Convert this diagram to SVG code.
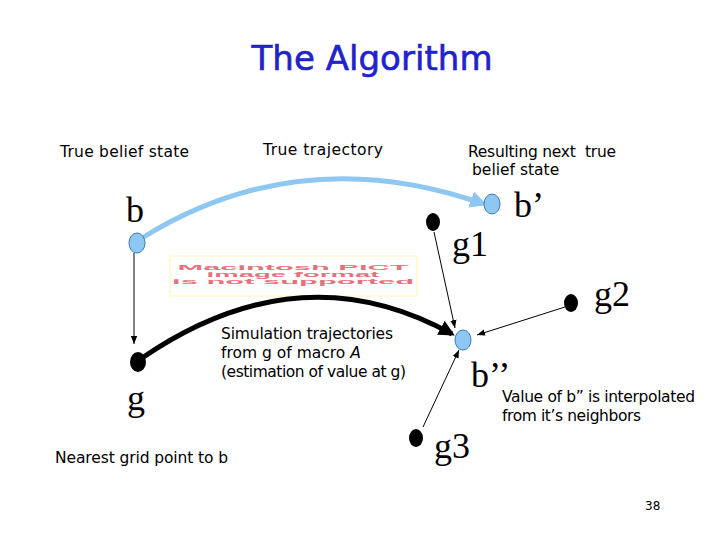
<svg xmlns="http://www.w3.org/2000/svg" width="720" height="540" viewBox="0 0 720 540">
<defs>
<style>
.lbl{font-family:"Comic Sans MS","DejaVu Sans",sans-serif;font-size:15.5px;fill:#000}
.ser{font-family:"Liberation Serif","Times New Roman",serif;font-size:36px;fill:#000}
.thin{stroke:#000;stroke-width:1;fill:none}
.bel{fill:#8ec8f2;stroke:#3a7ab8;stroke-width:1}
.grid{fill:#000}
.pict{font-family:"Liberation Sans",Arial,sans-serif;font-weight:bold;font-size:10px;fill:#e8707c}
</style>
<marker id="ah" viewBox="0 0 10 10" refX="10" refY="5" markerWidth="8" markerHeight="8" markerUnits="userSpaceOnUse" orient="auto"><path d="M0,1 L10,5 L0,9 Z" fill="#000"/></marker>
<marker id="ahb" viewBox="0 0 10 10" refX="8" refY="5" markerWidth="3.2" markerHeight="3.2" orient="auto"><path d="M0,0 L10,5 L0,10 Z" fill="#000"/></marker>
<marker id="ahl" viewBox="0 0 10 10" refX="8" refY="5" markerWidth="3.4" markerHeight="3.4" orient="auto"><path d="M0,0 L10,5 L0,10 Z" fill="#8ec8f2"/></marker>
</defs>
<rect width="720" height="540" fill="#fff"/>
<text x="372" y="70" text-anchor="middle" style="font-family:'Comic Sans MS','DejaVu Sans',sans-serif;font-size:34px;fill:#2222cc;stroke:#2222cc;stroke-width:0.6" textLength="241">The Algorithm</text>
<text class="lbl" x="60" y="157" textLength="129">True belief state</text>
<text class="lbl" x="263" y="155" textLength="120">True trajectory</text>
<text class="lbl" x="468" y="157" textLength="148" xml:space="preserve">Resulting next  true</text>
<text class="lbl" x="472" y="175">belief state</text>
<g id="pict">
<rect x="170" y="256" width="247" height="40" fill="#fff" stroke="#fff4b0" stroke-width="1"/>
<g transform="translate(293,0) scale(1,0.65)">
<text class="pict" x="0" y="415" text-anchor="middle" textLength="231" lengthAdjust="spacingAndGlyphs">Macintosh PICT</text>
<text class="pict" x="0" y="426" text-anchor="middle" textLength="173" lengthAdjust="spacingAndGlyphs">image format</text>
<text class="pict" x="0" y="437" text-anchor="middle" textLength="242" lengthAdjust="spacingAndGlyphs">is not supported</text>
</g>
</g>
<g id="connectors">
<path d="M142,238 Q300,140 484,204" fill="none" stroke="#8ec8f2" stroke-width="5" marker-end="url(#ahl)"/>
<path d="M142,358 Q300,250 452,334" fill="none" stroke="#000" stroke-width="5" marker-end="url(#ahb)"/>
<line class="thin" x1="134" y1="253" x2="134" y2="344" marker-end="url(#ah)"/>
<line class="thin" x1="434" y1="232" x2="455" y2="328" marker-end="url(#ah)"/>
<line class="thin" x1="565" y1="307" x2="477" y2="335" marker-end="url(#ah)"/>
<line class="thin" x1="423" y1="427" x2="459" y2="350" marker-end="url(#ah)"/>
</g>
<g id="b"><ellipse class="bel" cx="137" cy="243" rx="8" ry="10"/><text class="ser" x="126" y="222">b</text></g>
<g id="b1"><ellipse class="bel" cx="492" cy="204" rx="8" ry="10"/><text class="ser" x="514" y="217">b’</text></g>
<g id="g1"><ellipse class="grid" cx="433" cy="222" rx="7" ry="9"/><text class="ser" x="452" y="256">g1</text></g>
<g id="g2"><ellipse class="grid" cx="571" cy="303" rx="7" ry="9"/><text class="ser" x="594" y="306">g2</text></g>
<g id="b2"><ellipse class="bel" cx="463" cy="340" rx="8" ry="10"/><text class="ser" x="471" y="387">b’’</text></g>
<g id="g3"><ellipse class="grid" cx="416" cy="438" rx="7" ry="9"/><text class="ser" x="434" y="458">g3</text></g>
<g id="g"><ellipse class="grid" cx="138" cy="362" rx="8" ry="10"/><text class="ser" x="127" y="410">g</text></g>
<text class="lbl" x="221" y="339" textLength="172">Simulation trajectories</text>
<text class="lbl" x="221" y="358">from g of macro <tspan font-style="italic">A</tspan></text>
<text class="lbl" x="221" y="377" textLength="185">(estimation of value at g)</text>
<text class="lbl" x="502" y="402" textLength="193">Value of b” is interpolated</text>
<text class="lbl" x="502" y="421" textLength="139">from it’s neighbors</text>
<text class="lbl" x="55" y="463" textLength="173">Nearest grid point to b</text>
<text x="645" y="510" style="font-family:'DejaVu Sans',sans-serif;font-size:12px;fill:#000">38</text>
</svg>
